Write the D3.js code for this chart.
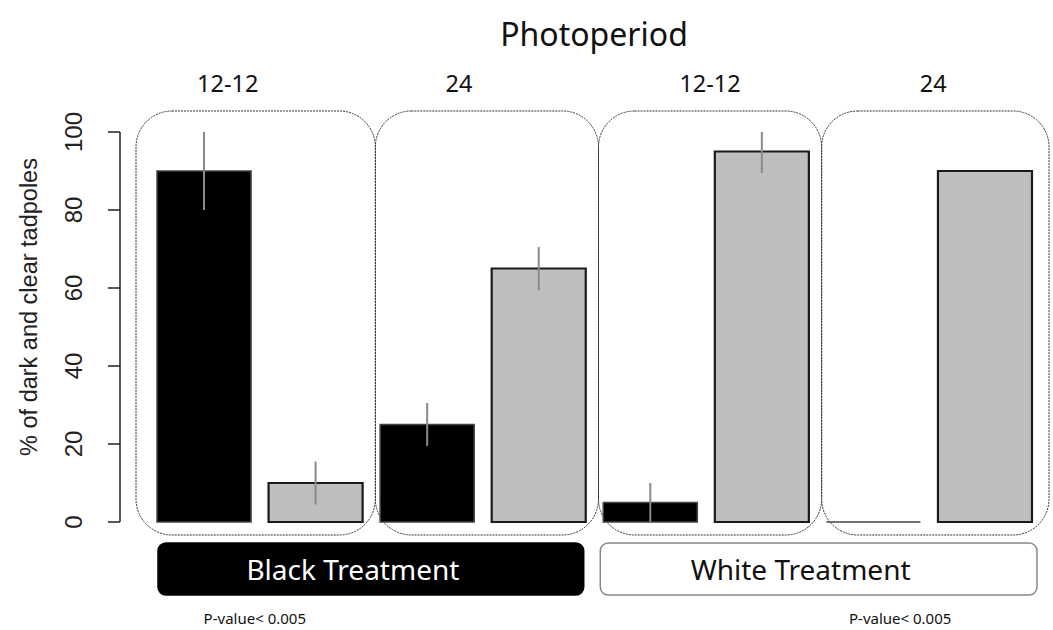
<!DOCTYPE html>
<html>
<head>
<meta charset="utf-8">
<script src="https://cdn.jsdelivr.net/npm/d3@7"></script>
<style>
  html, body { margin: 0; padding: 0; background: #fff; }
  svg { display: block; }
</style>
</head>
<body>
<div id="chart"></div>
<script>
// data
const photoperiods = ["12-12", "24", "12-12", "24"];
const treatments = ["Black Treatment", "White Treatment"];
const darkPct = [90, 25, 5, 0];      // black bars
const clearPct = [10, 65, 95, 90];   // grey bars
const darkErr = [10, 5.5, 5, 0];
const clearErr = [5.5, 5.5, 5.5, 0];
const yTicks = [0, 20, 40, 60, 80, 100];
const pLabels = ["P-value< 0.005", "P-value< 0.005"];

const width = 1053, height = 630;
const sans = "'Noto Sans', 'Open Sans', sans-serif";
const rfont = "'Liberation Sans', Arial, sans-serif";

// flatten to one bar per (group, series)
const bars = [];
photoperiods.forEach((p, g) => {
  bars.push({ g: g, kind: "dark", value: darkPct[g], err: darkErr[g] });
  bars.push({ g: g, kind: "clear", value: clearPct[g], err: clearErr[g] });
});

const svg = d3.select("#chart").append("svg")
  .attr("width", width)
  .attr("height", height);

const x = d3.scaleBand()
  .domain(d3.range(bars.length))
  .range([157, 1032])
  .paddingInner(0.157)
  .paddingOuter(0);

const y = d3.scaleLinear()
  .domain([0, 100])
  .range([522, 132]);

const bw = x.bandwidth();

// dotted rounded boxes around each photoperiod group
const groupStart = g => x(g * 2);
const groupEnd = g => x(g * 2 + 1) + bw;
const boxEdges = photoperiods.map((p, g) => {
  const left = g === 0 ? groupStart(g) - 21 : (groupEnd(g - 1) + groupStart(g)) / 2 + 4;
  const right = g === photoperiods.length - 1 ? groupEnd(g) + 17 : (groupEnd(g) + groupStart(g + 1)) / 2 + 4;
  return [left, right];
});

svg.append("g")
  .selectAll("rect")
  .data(boxEdges)
  .join("rect")
  .attr("x", d => d[0])
  .attr("y", 111)
  .attr("width", d => d[1] - d[0])
  .attr("height", 424)
  .attr("rx", 36)
  .attr("ry", 36)
  .attr("fill", "none")
  .attr("stroke", "#333")
  .attr("stroke-width", 1)
  .attr("stroke-dasharray", "2,1");

// bars as paths so a zero-height bar still shows its outline
svg.append("g")
  .selectAll("path")
  .data(bars)
  .join("path")
  .attr("d", (d, i) => {
    const x0 = x(i), y0 = y(d.value), h = y(0) - y(d.value);
    return `M${x0},${y0}h${bw}v${h}h${-bw}Z`;
  })
  .attr("fill", d => d.kind === "dark" ? "#000" : "#bebebe")
  .attr("stroke", d => d.kind === "dark" ? "#444" : "#1a1a1a")
  .attr("stroke-width", d => d.kind === "dark" ? 1.5 : 2.2);

// error bars
svg.append("g")
  .selectAll("line")
  .data(bars.filter(d => d.err > 0))
  .join("line")
  .attr("x1", d => x(bars.indexOf(d)) + bw / 2)
  .attr("x2", d => x(bars.indexOf(d)) + bw / 2)
  .attr("y1", d => y(Math.min(100, d.value + d.err)))
  .attr("y2", d => y(Math.max(0, d.value - d.err)))
  .attr("stroke", "#8a8a8a")
  .attr("stroke-width", 2);

// y axis, R style
const yAxis = svg.append("g");
yAxis.append("line")
  .attr("x1", 120).attr("x2", 120)
  .attr("y1", y(0)).attr("y2", y(100))
  .attr("stroke", "#222").attr("stroke-width", 1.5);
yAxis.selectAll(".tick")
  .data(yTicks)
  .join("line")
  .attr("class", "tick")
  .attr("x1", 108).attr("x2", 120)
  .attr("y1", d => y(d)).attr("y2", d => y(d))
  .attr("stroke", "#222").attr("stroke-width", 1.5);
yAxis.selectAll(".lab")
  .data(yTicks)
  .join("text")
  .attr("class", "lab")
  .attr("transform", d => `translate(82,${y(d)}) rotate(-90)`)
  .attr("text-anchor", "middle")
  .attr("font-family", rfont)
  .attr("font-size", 24)
  .attr("fill", "#222")
  .text(d => d);

svg.append("text")
  .attr("transform", "translate(37,307) rotate(-90)")
  .attr("text-anchor", "middle")
  .attr("font-family", rfont)
  .attr("font-size", 23.5)
  .attr("fill", "#222")
  .text("% of dark and clear tadpoles");

// titles
svg.append("text")
  .attr("x", 594)
  .attr("y", 46)
  .attr("text-anchor", "middle")
  .attr("font-family", sans)
  .attr("font-size", 32)
  .attr("fill", "#111")
  .text("Photoperiod");

const labelNudge = [-28, -28, 0, -2];
svg.append("g")
  .selectAll("text")
  .data(photoperiods)
  .join("text")
  .attr("x", (d, g) => (boxEdges[g][0] + boxEdges[g][1]) / 2 + labelNudge[g])
  .attr("y", 92)
  .attr("text-anchor", "middle")
  .attr("font-family", sans)
  .attr("font-size", 23.5)
  .attr("fill", "#111")
  .text(d => d);

// treatment boxes
const tBoxes = treatments.map((t, k) => ({
  name: t,
  x0: groupStart(k * 2) + (k === 0 ? 1 : -3),
  x1: groupEnd(k * 2 + 1) + (k === 0 ? -2 : 5),
  dark: k === 0
}));
const tg = svg.append("g")
  .selectAll("g")
  .data(tBoxes)
  .join("g");
tg.append("rect")
  .attr("x", d => d.x0)
  .attr("y", 543)
  .attr("width", d => d.x1 - d.x0)
  .attr("height", 52)
  .attr("rx", 8)
  .attr("fill", d => d.dark ? "#000" : "#fff")
  .attr("stroke", d => d.dark ? "#000" : "#888")
  .attr("stroke-width", 1.5);
tg.append("text")
  .attr("x", d => (d.x0 + d.x1) / 2 - 18)
  .attr("y", 580)
  .attr("text-anchor", "middle")
  .attr("font-family", sans)
  .attr("font-size", 28)
  .attr("fill", d => d.dark ? "#fff" : "#111")
  .text(d => d.name);

// p-values
const pNudge = [-5, -29];
svg.append("g")
  .selectAll("text")
  .data(pLabels)
  .join("text")
  .attr("x", (d, k) => {
    const g = k === 0 ? 0 : photoperiods.length - 1;
    return (groupStart(g) + groupEnd(g)) / 2 + pNudge[k];
  })
  .attr("y", 624)
  .attr("text-anchor", "middle")
  .attr("font-family", sans)
  .attr("font-size", 15)
  .attr("fill", "#111")
  .text(d => d);
</script>
</body>
</html>
